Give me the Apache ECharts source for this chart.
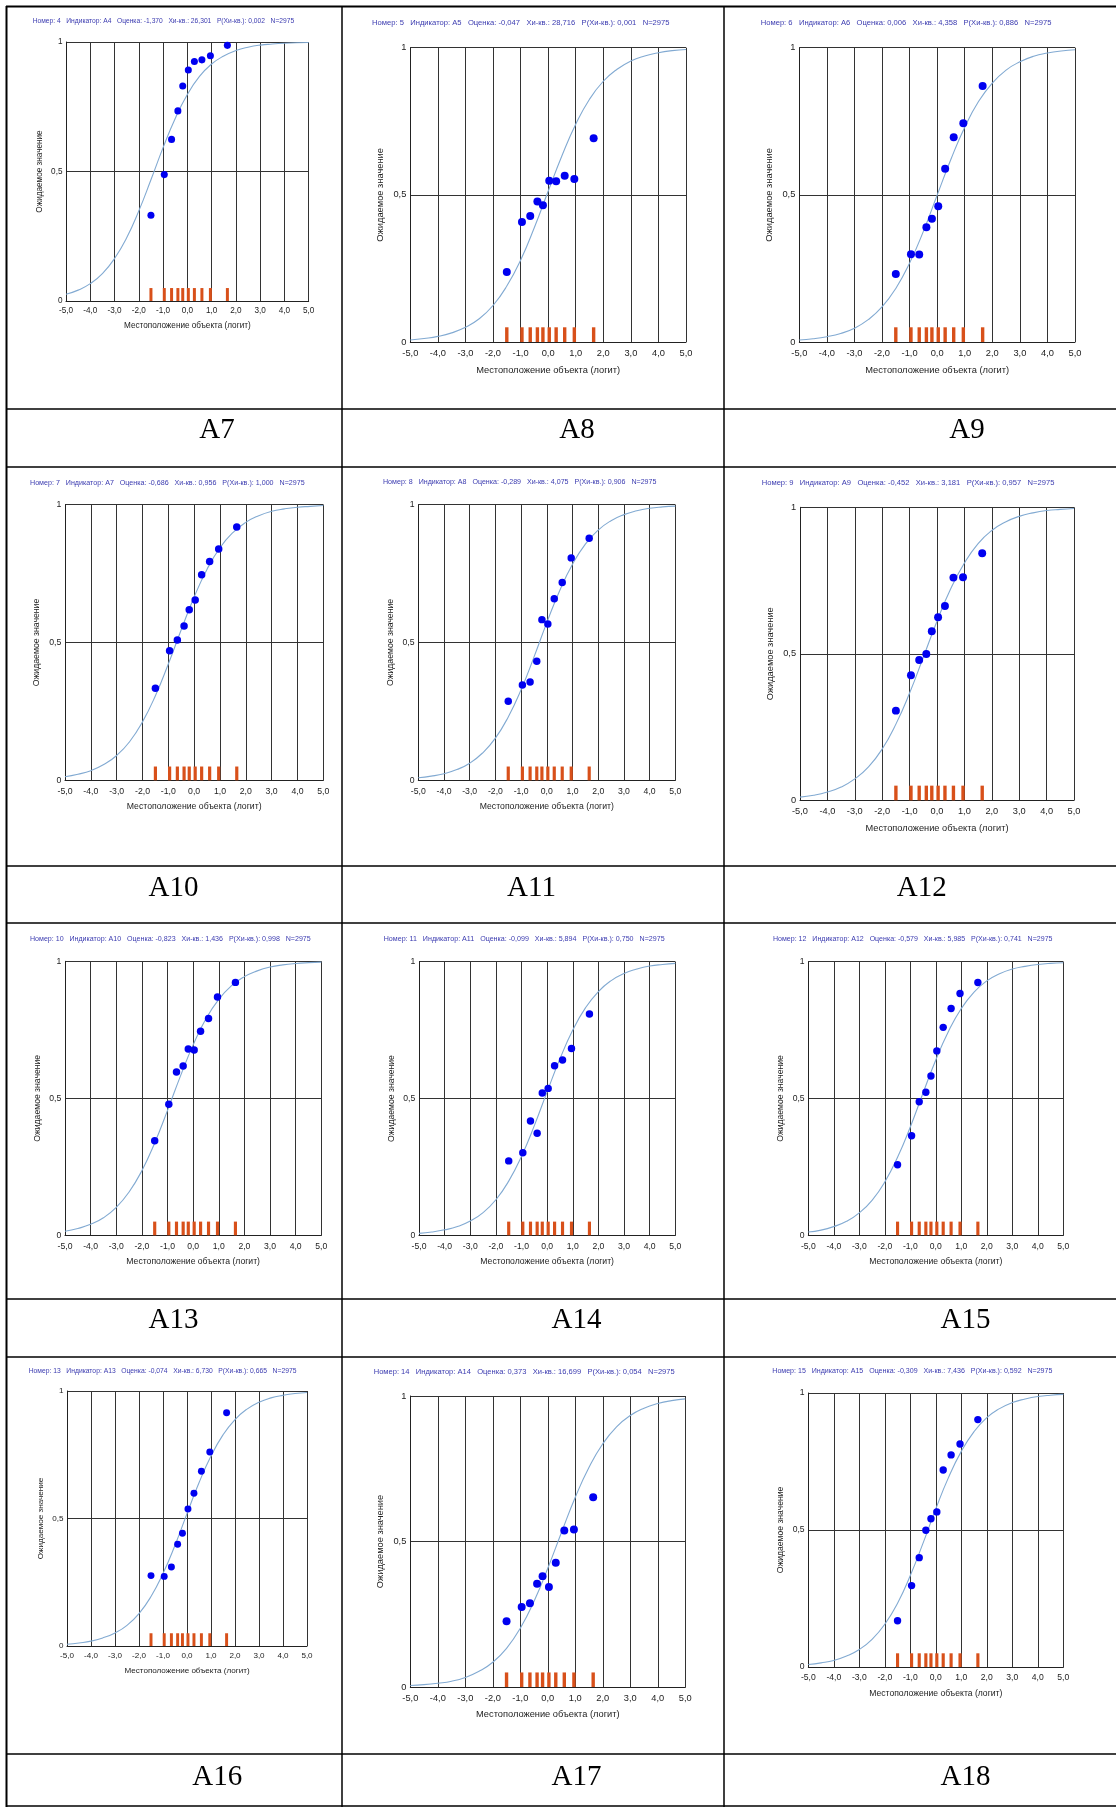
<!DOCTYPE html>
<html><head><meta charset="utf-8">
<script src="https://cdn.jsdelivr.net/npm/echarts@6/dist/echarts.min.js"></script>
<style>html,body{margin:0;padding:0;background:#fff}#c{width:1116px;height:1807px}</style>
</head><body><div id="c"></div>
<script>
// ---------- DATA ----------
const curveX = [-5,-4.5,-4,-3.5,-3,-2.5,-2,-1.5,-1,-0.5,0,0.5,1,1.5,2,2.5,3,3.5,4,4.5,5];
const modelA4  = [0.026,0.042,0.067,0.106,0.164,0.244,0.348,0.468,0.592,0.705,0.797,0.867,0.915,0.946,0.967,0.980,0.988,0.992,0.995,0.997,0.998];
const modelA5  = [0.007,0.012,0.019,0.031,0.050,0.079,0.124,0.190,0.278,0.389,0.512,0.633,0.740,0.825,0.886,0.927,0.955,0.972,0.983,0.990,0.994];
const modelA6  = [0.007,0.011,0.018,0.029,0.047,0.076,0.119,0.182,0.268,0.376,0.499,0.621,0.730,0.817,0.880,0.924,0.952,0.971,0.982,0.989,0.993];
const modelA7  = [0.013,0.022,0.035,0.057,0.090,0.140,0.212,0.307,0.422,0.546,0.665,0.766,0.844,0.899,0.936,0.960,0.976,0.985,0.991,0.994,0.997];
const modelA8  = [0.009,0.015,0.024,0.039,0.062,0.099,0.153,0.230,0.329,0.447,0.572,0.688,0.784,0.857,0.908,0.942,0.964,0.978,0.987,0.992,0.995];
const modelA9  = [0.011,0.017,0.028,0.045,0.073,0.114,0.175,0.260,0.366,0.488,0.611,0.722,0.810,0.876,0.921,0.950,0.969,0.981,0.989,0.993,0.996];
const modelA10 = [0.015,0.025,0.040,0.064,0.102,0.158,0.236,0.337,0.456,0.580,0.695,0.790,0.861,0.911,0.944,0.965,0.979,0.987,0.992,0.995,0.997];
const modelA11 = [0.007,0.012,0.020,0.032,0.052,0.083,0.130,0.198,0.289,0.401,0.525,0.645,0.750,0.832,0.891,0.931,0.957,0.973,0.984,0.990,0.994];
const modelA12 = [0.012,0.019,0.032,0.051,0.082,0.128,0.195,0.285,0.396,0.520,0.641,0.746,0.829,0.889,0.930,0.956,0.973,0.983,0.990,0.994,0.996];
const modelA13 = [0.007,0.012,0.019,0.032,0.051,0.081,0.127,0.194,0.284,0.395,0.519,0.640,0.745,0.828,0.888,0.929,0.956,0.973,0.983,0.990,0.994];
const modelA14 = [0.005,0.008,0.013,0.020,0.033,0.054,0.085,0.133,0.202,0.295,0.408,0.532,0.652,0.755,0.836,0.894,0.933,0.958,0.974,0.984,0.990];
const modelA15 = [0.009,0.015,0.024,0.040,0.064,0.101,0.156,0.233,0.334,0.452,0.577,0.692,0.787,0.859,0.910,0.943,0.965,0.978,0.987,0.992,0.995];

const binX = [-1.5,-0.95,-0.65,-0.39,-0.19,0.04,0.29,0.60,0.95,1.65];
const binBarHeight = [0.05,0.05,0.05,0.05,0.05,0.05,0.05,0.05,0.05,0.05];

const obsA4  = [0.331,0.488,0.624,0.734,0.830,0.892,0.925,0.931,0.947,0.987];
const obsA5  = [0.238,0.408,0.428,0.477,0.465,0.548,0.546,0.565,0.554,0.692];
const obsA6  = [0.231,0.298,0.297,0.390,0.419,0.461,0.589,0.696,0.743,0.870];
const obsA7  = [0.334,0.470,0.509,0.560,0.619,0.654,0.746,0.794,0.839,0.919];
const obsA8  = [0.287,0.346,0.357,0.432,0.583,0.567,0.659,0.718,0.807,0.878];
const obsA9  = [0.306,0.427,0.479,0.499,0.577,0.625,0.663,0.760,0.761,0.843];
const obsA10 = [0.345,0.478,0.596,0.618,0.680,0.676,0.745,0.791,0.870,0.923];
const obsA11 = [0.272,0.302,0.418,0.373,0.520,0.537,0.620,0.641,0.683,0.809];
const obsA12 = [0.258,0.364,0.488,0.523,0.582,0.674,0.760,0.829,0.884,0.924];
const obsA13 = [0.276,0.273,0.310,0.399,0.442,0.537,0.599,0.685,0.761,0.915];
const obsA14 = [0.226,0.275,0.288,0.355,0.381,0.344,0.427,0.538,0.541,0.652];
const obsA15 = [0.169,0.297,0.399,0.499,0.541,0.566,0.719,0.774,0.814,0.903];

const xTickLabels = ['-5,0','-4,0','-3,0','-2,0','-1,0','0,0','1,0','2,0','3,0','4,0','5,0'];
const yTickLabels = {0:'0', 0.5:'0,5', 1:'1'};
const xAxisTitle = 'Местоположение объекта (логит)';
const yAxisTitle = 'Ожидаемое значение';

const headerTexts = [
 'Номер: 4   Индикатор: A4   Оценка: -1,370   Хи-кв.: 26,301   P(Хи-кв.): 0,002   N=2975',
 'Номер: 5   Индикатор: A5   Оценка: -0,047   Хи-кв.: 28,716   P(Хи-кв.): 0,001   N=2975',
 'Номер: 6   Индикатор: A6   Оценка: 0,006   Хи-кв.: 4,358   P(Хи-кв.): 0,886   N=2975',
 'Номер: 7   Индикатор: A7   Оценка: -0,686   Хи-кв.: 0,956   P(Хи-кв.): 1,000   N=2975',
 'Номер: 8   Индикатор: A8   Оценка: -0,289   Хи-кв.: 4,075   P(Хи-кв.): 0,906   N=2975',
 'Номер: 9   Индикатор: A9   Оценка: -0,452   Хи-кв.: 3,181   P(Хи-кв.): 0,957   N=2975',
 'Номер: 10   Индикатор: A10   Оценка: -0,823   Хи-кв.: 1,436   P(Хи-кв.): 0,998   N=2975',
 'Номер: 11   Индикатор: A11   Оценка: -0,099   Хи-кв.: 5,894   P(Хи-кв.): 0,750   N=2975',
 'Номер: 12   Индикатор: A12   Оценка: -0,579   Хи-кв.: 5,985   P(Хи-кв.): 0,741   N=2975',
 'Номер: 13   Индикатор: A13   Оценка: -0,074   Хи-кв.: 6,730   P(Хи-кв.): 0,665   N=2975',
 'Номер: 14   Индикатор: A14   Оценка: 0,373   Хи-кв.: 16,699   P(Хи-кв.): 0,054   N=2975',
 'Номер: 15   Индикатор: A15   Оценка: -0,309   Хи-кв.: 7,436   P(Хи-кв.): 0,592   N=2975'
];
const cellLabels = ['A7','A8','A9','A10','A11','A12','A13','A14','A15','A16','A17','A18'];

// ---------- LAYOUT ----------
const PLOT = [
 [66,42,308.7,301],[410.3,47.7,686,342],[799.3,47.7,1075,342],
 [65,504.7,323.3,780.3],[418.3,504.7,675.3,780.3],[800,507.3,1074,800.3],
 [65,961.3,321.3,1235.3],[419,961.7,675.3,1235.3],[808.3,961.7,1063.3,1235.3],
 [67,1391,307,1646],[410.3,1396,685.3,1687],[808.3,1393,1063.3,1667]
];
const HEAD = [
 [32.7,294.7,21.3],[372,670,23.3],[760.7,1052,23.3],
 [30,305,482.7],[383,657,482.3],[761.7,1054.7,483.3],
 [30,311,938.7],[383.7,664.7,939],[773,1053,939],
 [28.7,297,1371],[373.7,675.3,1372],[772.3,1053,1371]
];
const LABEL_POS = [
 [217,430],[577,430],[967,430],
 [173.5,888],[531.5,888],[921.7,888],
 [173.5,1320],[576.5,1320],[965.5,1320],
 [217.3,1777],[576.5,1777],[965.5,1777]
];
const H_LINES = [6.5,409,467,866,923,1299,1357,1754,1806];
const V_LINES = [6.5,342,724];

const models = [modelA4,modelA5,modelA6,modelA7,modelA8,modelA9,modelA10,modelA11,modelA12,modelA13,modelA14,modelA15];
const observed = [obsA4,obsA5,obsA6,obsA7,obsA8,obsA9,obsA10,obsA11,obsA12,obsA13,obsA14,obsA15];

const FONT = 'Liberation Sans';
const mctx = document.createElement('canvas').getContext('2d');
function fitSize(text, width){ mctx.font = '10px "' + FONT + '"'; return 10 * width / mctx.measureText(text).width; }

const grid=[], xAxis=[], yAxis=[], series=[], graphic=[];
PLOT.forEach((p,i)=>{
  const [l,t,r,b]=p, w=r-l, h=b-t, s=w/275.7;
  const fs = 9.3*s;
  grid.push({left:l, top:t, width:w, height:h});
  xAxis.push({gridIndex:i, type:'value', min:-5, max:5, interval:1,
    axisLine:{show:true, onZero:false, lineStyle:{color:'#222', width:1}},
    axisTick:{show:false},
    axisLabel:{show:true, showMinLabel:true, showMaxLabel:true, fontSize:fs, fontFamily:FONT, color:'#222', margin:7*s,
      formatter:v=>xTickLabels[Math.round(v)+5]},
    splitLine:{show:true, lineStyle:{color:'#333', width:1}},
    name:xAxisTitle, nameLocation:'middle', nameGap:23.5*s,
    nameTextStyle:{fontSize:fs, fontFamily:FONT, color:'#222'}
  });
  yAxis.push({gridIndex:i, type:'value', min:0, max:1, interval:0.5,
    axisLine:{show:true, onZero:false, lineStyle:{color:'#222', width:1}},
    axisTick:{show:false},
    axisLabel:{show:true, fontSize:fs, fontFamily:FONT, color:'#222', margin:4*s,
      formatter:v=>yTickLabels[v]},
    splitLine:{show:true, lineStyle:{color:'#333', width:1}},
    name:yAxisTitle, nameLocation:'middle', nameGap:25*s,
    nameTextStyle:{fontSize:fs, fontFamily:FONT, color:'#222'}
  });
  series.push({type:'bar', xAxisIndex:i, yAxisIndex:i, barWidth:3.4*s, z:2,
    itemStyle:{color:'#d8501a'}, data:binX.map((x,j)=>[x, binBarHeight[j]]), silent:true});
  series.push({type:'line', xAxisIndex:i, yAxisIndex:i, smooth:0.5, showSymbol:false, z:3,
    lineStyle:{color:'#82aad2', width:1.1}, data:curveX.map((x,j)=>[x, models[i][j]]), silent:true});
  series.push({type:'scatter', xAxisIndex:i, yAxisIndex:i, symbolSize:8*s, z:4,
    itemStyle:{color:'#0000f0', opacity:1}, data:binX.map((x,j)=>[x, observed[i][j]]), silent:true});

  const hd = HEAD[i];
  graphic.push({type:'text', x:hd[0], y:hd[2], silent:true,
    style:{text:headerTexts[i], fontSize:fitSize(headerTexts[i], hd[1]-hd[0]), fontFamily:FONT, fill:'#3b3bb0',
      verticalAlign:'middle', textVerticalAlign:'middle'}});
  const lp = LABEL_POS[i];
  graphic.push({type:'text', x:lp[0], y:lp[1], silent:true,
    style:{text:cellLabels[i], fontSize:29, fontFamily:'Liberation Serif', fill:'#000',
      align:'center', textAlign:'center', verticalAlign:'middle', textVerticalAlign:'middle'}});
});
H_LINES.forEach((y,k)=>graphic.push({type:'line', silent:true, shape:{x1:6, y1:y, x2:1116, y2:y},
  style:{stroke:'#000', lineWidth: k===0?2:1.5}}));
V_LINES.forEach((x,k)=>graphic.push({type:'line', silent:true, shape:{x1:x, y1:6, x2:x, y2:1807},
  style:{stroke:'#000', lineWidth: k===0?2:1.5}}));

const chart = echarts.init(document.getElementById('c'), null, {renderer:'canvas'});
chart.setOption({animation:false, backgroundColor:'#fff', grid, xAxis, yAxis, series, graphic});
</script></body></html>
